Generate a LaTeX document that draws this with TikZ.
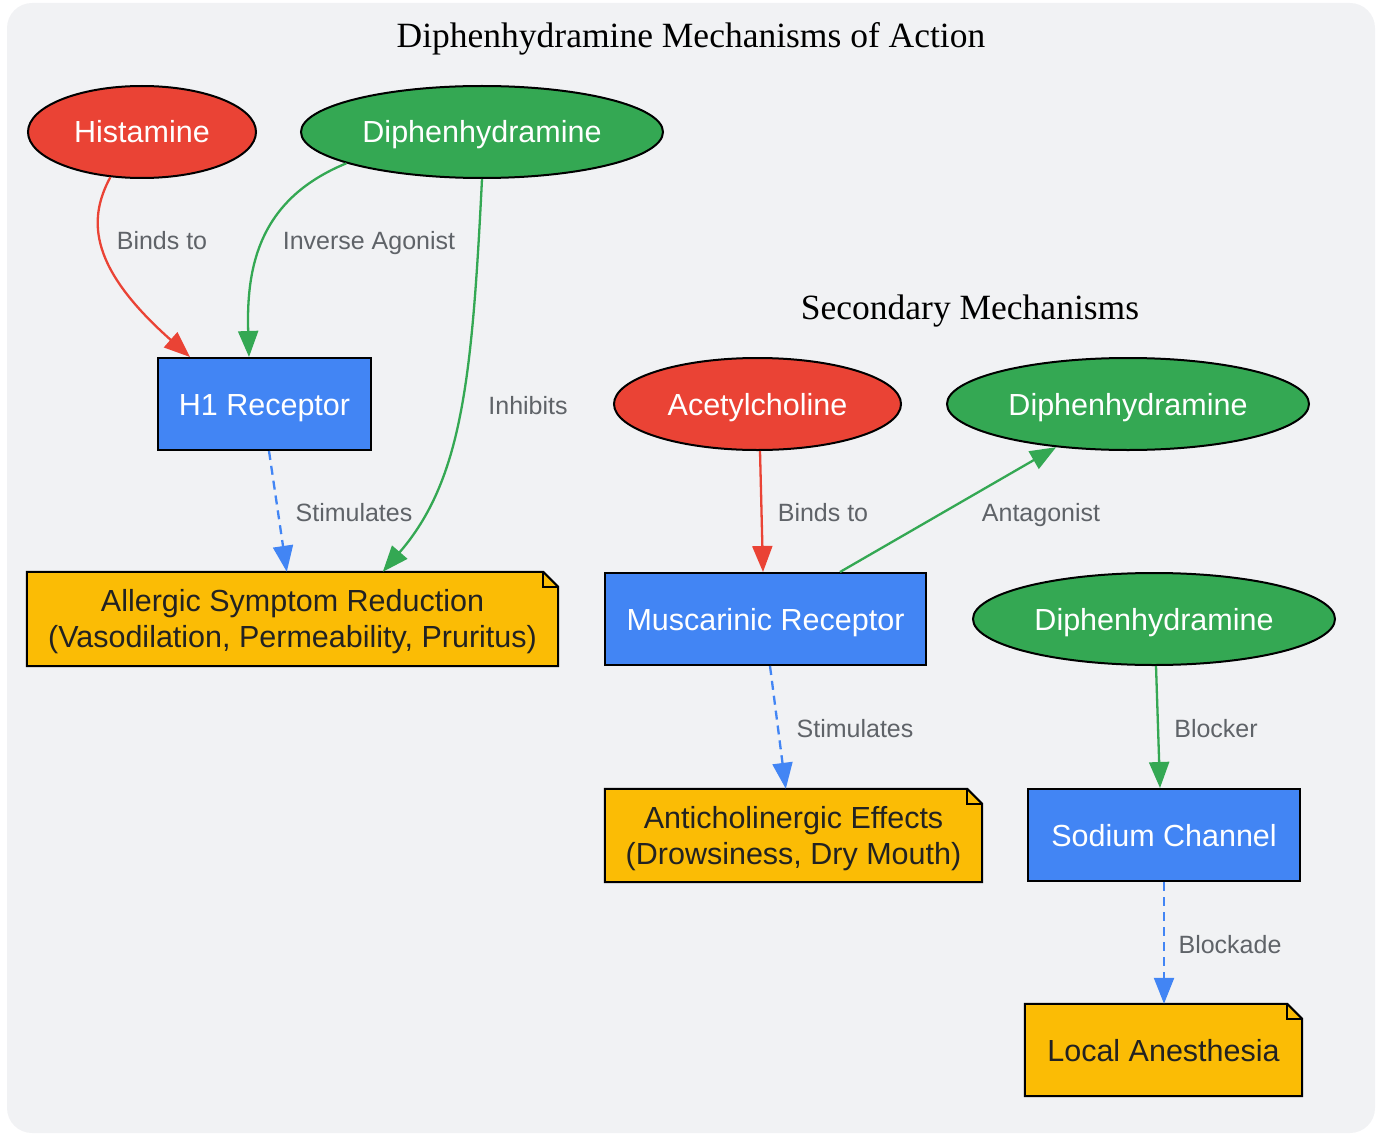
\documentclass[tikz,border=0pt]{standalone}
\usepackage{fontspec}
\setmainfont{Liberation Sans}
\newfontfamily\serifttl{Liberation Serif}
\usetikzlibrary{shapes.geometric,arrows.meta,calc}
\definecolor{cRed}{HTML}{EA4335}
\definecolor{cGreen}{HTML}{34A853}
\definecolor{cBlue}{HTML}{4285F4}
\definecolor{cYellow}{HTML}{FBBC05}
\definecolor{cLabel}{HTML}{5F6368}
\definecolor{cBg}{HTML}{F1F2F4}
\definecolor{cDark}{HTML}{222222}
\tikzset{
  ell/.style={ellipse, draw=black, line width=2pt, minimum height=92pt, inner sep=0pt, text=white, text height=22pt, text depth=0pt, font=\fontsize{30.5}{36}\selectfont},
  redell/.style={ell, fill=cRed},
  greenell/.style={ell, fill=cGreen},
  recbox/.style={rectangle, draw=black, line width=2pt, fill=cBlue, text=white, inner sep=0pt, text height=22pt, text depth=0pt, font=\fontsize{30.5}{36}\selectfont},
  notebox/.style={rectangle, inner sep=0pt, text=cDark, align=center, font=\fontsize{30.5}{36}\selectfont},
  edgelbl/.style={text=cLabel, text height=18pt, text depth=0pt, font=\fontsize{25}{30}\selectfont},
  ttl/.style={font=\serifttl\fontsize{35.5}{40}\selectfont, text=black},
  conn/.style={line width=2.3pt, -{Triangle[length=26pt,width=20pt]}},
  redc/.style={conn, draw=cRed},
  greenc/.style={conn, draw=cGreen},
  bluec/.style={conn, draw=cBlue, dash pattern=on 9pt off 6pt},
}
\newcommand{\notedraw}[1]{%
  \draw[line width=2pt, fill=cYellow] (#1.north west) -- ($(#1.north east)+(-15,0)$) -- ($(#1.north east)+(0,15)$) -- (#1.south east) -- (#1.south west) -- cycle;
  \draw[line width=2pt] ($(#1.north east)+(-15,0)$) -- ($(#1.north east)+(-15,15)$) -- ($(#1.north east)+(0,15)$);
}
\begin{document}
\begin{tikzpicture}[x=1pt,y=-1pt]
\useasboundingbox (0,0) rectangle (1380,1134);
\fill[cBg, rounded corners=25pt] (7,3) rectangle (1375,1133);

\node[ttl] (t1) at (691,39) {Diphenhydramine Mechanisms of Action};
\node[ttl] (t2) at (970,311) {Secondary Mechanisms};

\node[redell, minimum width=228pt] (hist) at (142,132) {Histamine};
\node[greenell, minimum width=362pt] (d1) at (482,132) {Diphenhydramine};
\node[recbox, minimum width=213pt, minimum height=92pt] (h1) at (264.5,404) {H1 Receptor};
\node[notebox, minimum width=531pt, minimum height=94pt] (allerg) at (292.5,619) {};
\notedraw{allerg}
\node[notebox, yshift=-3pt] (allergt) at (allerg) {Allergic Symptom Reduction\\(Vasodilation, Permeability, Pruritus)};

\node[redell, minimum width=287pt] (ach) at (757.5,404) {Acetylcholine};
\node[greenell, minimum width=362pt] (d2) at (1128,404) {Diphenhydramine};
\node[recbox, minimum width=321pt, minimum height=92pt] (musc) at (765.5,619) {Muscarinic Receptor};
\node[greenell, minimum width=362pt] (d3) at (1154,619) {Diphenhydramine};

\node[notebox, minimum width=377pt, minimum height=93pt] (antich) at (793.5,835.5) {};
\notedraw{antich}
\node[notebox, yshift=-3pt] (antit) at (antich) {Anticholinergic Effects\\(Drowsiness, Dry Mouth)};
\node[recbox, minimum width=272pt, minimum height=92pt] (sod) at (1164,835) {Sodium Channel};
\node[notebox, minimum width=277pt, minimum height=92pt] (local) at (1163.5,1050) {};
\notedraw{local}
\node[notebox, text height=22pt, text depth=0pt] (localt) at (local) {Local Anesthesia};

% connectors
\draw[redc] (hist.235) .. controls (86,222) and (92,270) .. ($(h1.north west)+(33,0)$);
\draw[greenc] (d1.193) .. controls (262,198) and (246,262) .. ($(h1.north west)+(92,0)$);
\draw[greenc] (d1.south) .. controls (472,380) and (462,480) .. ($(allerg.north west)+(356,0)$);
\draw[bluec] ($(h1.south west)+(112,0)$) -- ($(allerg.north west)+(260,0)$);

\draw[redc] ($(ach.south)+(2.5,0)$) -- ($(musc.north west)+(159,0)$);
\draw[greenc] ($(musc.north west)+(236,0)$) -- (d2.211);
\draw[bluec] ($(musc.south west)+(166,0)$) -- ($(antich.north west)+(181,0)$);
\draw[greenc] ($(d3.south)+(2,0)$) -- ($(sod.north west)+(133,0)$);
\draw[bluec] (sod.south) -- (local.north -| sod.south);

% labels
\node[edgelbl] (l1) at (162,240) {Binds to};
\node[edgelbl] (l2) at (369,240) {Inverse Agonist};
\node[edgelbl] (l3) at (528,405) {Inhibits};
\node[edgelbl] (l4) at (354,512) {Stimulates};
\node[edgelbl] (l5) at (823,512) {Binds to};
\node[edgelbl] (l6) at (1041,512) {Antagonist};
\node[edgelbl] (l7) at (855,728) {Stimulates};
\node[edgelbl] (l8) at (1216,728) {Blocker};
\node[edgelbl] (l9) at (1230,944) {Blockade};
\end{tikzpicture}
\end{document}
